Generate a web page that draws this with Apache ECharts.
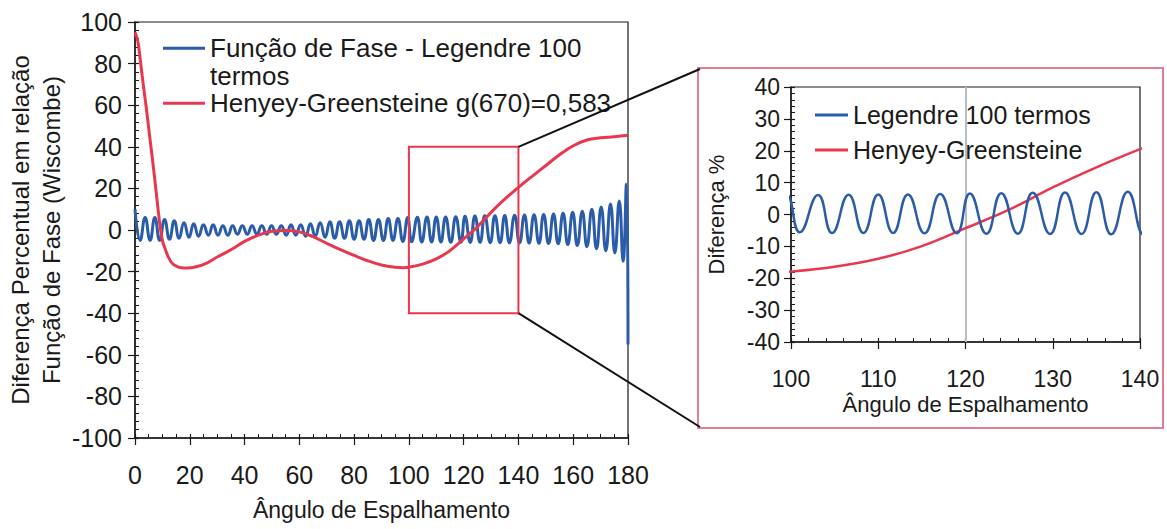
<!DOCTYPE html>
<html><head><meta charset="utf-8">
<script src="https://cdn.jsdelivr.net/npm/echarts@6/dist/echarts.min.js"></script>
<style>html,body{margin:0;padding:0;background:#fff}#c{width:1167px;height:529px}</style>
</head><body><div id="c"></div>
<script>
// Legendre 100 terms: percent difference (angle, value)
const legendreX = [0, 1.9, 3.7, 5.5, 7.25, 9.0, 10.8, 12.6, 14.35, 16.1, 17.9, 19.7, 21.45, 23.2, 25.0, 26.8, 28.55, 30.3, 32.1, 33.9, 35.65, 37.4, 39.2, 41.0, 42.75, 44.5, 46.3, 48.1, 49.85, 51.6, 53.4, 55.2, 56.95, 58.7, 60.5, 62.3, 64.05, 65.8, 67.6, 69.4, 71.15, 72.9, 74.7, 76.5, 78.25, 80.0, 81.8, 83.6, 85.35, 87.1, 88.9, 90.7, 92.45, 94.2, 96.0, 97.8, 99.55, 101.0, 103.1, 104.7, 106.6, 108.3, 110.0, 111.7, 113.4, 115.3, 117.1, 119.0, 120.5, 122.4, 124.1, 126.0, 127.7, 129.7, 131.4, 133.3, 135.0, 136.7, 138.6, 140.4, 142.2, 143.9, 145.7, 147.5, 149.2, 151.0, 152.8, 154.5, 156.3, 158.0, 159.8, 161.5, 163.3, 165.0, 166.8, 168.5, 170.2, 171.9, 173.6, 175.2, 176.8, 178.2, 179.4, 180];
const legendreY = [10, -5, 6, -5, 6, -5, 5, -4.5, 4.5, -4, 3.5, -3.5, 3, -3, 2.5, -2.5, 2.5, -2.5, 2, -2.5, 2, -2, 2, -2, 2, -2, 2, -2, 2, -2, 2, -2.5, 2.5, -2.5, 2.5, -3, 3, -3, 3.5, -3.5, 4, -4, 4, -4, 4.5, -4.5, 4.5, -4.5, 5, -5, 5, -5, 5.5, -5, 5.5, -5.5, 6, -5.6, 6.1, -5.8, 6.2, -5.8, 6.3, -5.8, 6.3, -5.9, 6.4, -5.9, 6.6, -6, 6.7, -6, 6.8, -6.1, 6.9, -6.1, 7.0, -6.2, 7.1, -6.3, 7.2, -6.3, 7.3, -6.4, 7.5, -6.5, 7.7, -6.6, 8, -7, 8.5, -7.5, 9, -8, 10, -9, 11, -10, 12.5, -11, 14, -15, 22, -55];
// Henyey-Greenstein g(670)=0,583: percent difference
const hgX = [0, 1, 2, 3, 4, 5, 6, 7, 8, 9, 10, 11, 12, 13, 14, 15, 17, 19, 22, 26, 30, 35, 40, 45, 50, 55, 60, 65, 70, 75, 80, 85, 90, 95, 98, 100, 105, 110, 115, 120, 125, 130, 135, 140, 145, 150, 155, 160, 165, 170, 175, 180];
const hgY = [95, 91, 81, 70, 60, 49, 38, 27, 15, 3.5, -5, -9, -12.5, -15, -16.5, -17.3, -18.2, -18.3, -17.8, -16, -13, -9.5, -5.5, -2.5, -0.6, -0.2, -0.9, -3.2, -6.4, -9.4, -12.2, -14.8, -16.8, -17.9, -18.1, -17.9, -16.4, -13.9, -9.9, -4.3, 1.5, 8.5, 14.8, 20.5, 25.8, 31, 36.2, 40.5, 43.3, 44.3, 44.8, 45.5];
// axis ranges
const mainX = [0, 180, 20];
const mainY = [-100, 100, 20];
const zoomX = [100, 140, 10];
const zoomY = [-40, 40, 10];
const markerX = 120;

const names = {
  mainBlue: 'Função de Fase - Legendre 100 termos',
  mainRed: 'Henyey-Greensteine g(670)=0,583',
  zoomBlue: 'Legendre 100 termos',
  zoomRed: 'Henyey-Greensteine'
};

const FONT = '"Liberation Sans", Arial, sans-serif';
const BLUE = '#2b5ca8';
const RED = '#e8384f';
const INK = '#1a1a1a';

const blueData = legendreX.map((x, i) => [x, legendreY[i]]);
const redData = hgX.map((x, i) => [x, hgY[i]]);

function axisPair(dim, grid, r, fs, margin, extra) {
  const base = Object.assign({
    type: 'value', gridIndex: grid, min: r[0], max: r[1], interval: r[2],
    axisLine: { show: true, onZero: false, lineStyle: { color: INK, width: 1.5 } },
    axisTick: { show: true, inside: true, length: 4, lineStyle: { color: INK, width: 1.2 } },
    minorTick: { show: true, splitNumber: dim === 'x' && grid === 0 ? 4 : 5, length: 4, lineStyle: { color: INK, width: 1 } },
    splitLine: { show: false },
    axisLabel: { fontSize: fs, color: INK, fontFamily: FONT, margin: margin }
  }, extra);
  base.position = dim === 'x' ? 'bottom' : 'left';
  const overlay = {
    type: 'value', gridIndex: grid, min: r[0], max: r[1], interval: r[2],
    position: dim === 'x' ? 'bottom' : 'left',
    axisLine: { show: false, onZero: false }, axisLabel: { show: false }, splitLine: { show: false },
    axisTick: { show: true, inside: false, length: 7, lineStyle: { color: INK, width: 1.2 } },
    minorTick: { show: false }
  };
  return [base, overlay];
}

const [mx0, mx1] = axisPair('x', 0, mainX, 25, 24, {
  name: 'Ângulo de Espalhamento', nameLocation: 'middle', nameGap: 60,
  nameTextStyle: { fontSize: 23, color: INK, fontFamily: FONT }
});
const [my0, my1] = axisPair('y', 0, mainY, 25, 13, {
  name: 'Diferença Percentual em relação\nFunção de Fase (Wiscombe)', nameLocation: 'middle', nameGap: 68,
  nameTextStyle: { fontSize: 24, lineHeight: 31, color: INK, fontFamily: FONT }
});
const [zx0, zx1] = axisPair('x', 1, zoomX, 23, 25, {
  name: 'Ângulo de Espalhamento', nameLocation: 'middle', nameGap: 51,
  nameTextStyle: { fontSize: 22, color: INK, fontFamily: FONT }
});
const [zy0, zy1] = axisPair('y', 1, zoomY, 23, 11, {
  name: 'Diferença %', nameLocation: 'middle', nameGap: 64,
  nameTextStyle: { fontSize: 22, color: INK, fontFamily: FONT }
});

const chart = echarts.init(document.getElementById('c'), null, { renderer: 'svg' });
chart.setOption({
  animation: false,
  backgroundColor: '#fff',
  grid: [
    { left: 135, right: 539, top: 22, bottom: 91, show: true, borderColor: INK, borderWidth: 1.2, backgroundColor: 'transparent' },
    { left: 791, right: 27, top: 87, bottom: 187, show: true, borderColor: INK, borderWidth: 1.2, backgroundColor: 'transparent' }
  ],
  xAxis: [mx0, zx0, mx1, zx1],
  yAxis: [my0, zy0, my1, zy1],
  legend: [
    {
      data: [names.mainBlue, names.mainRed], orient: 'vertical', left: 163, top: 7,
      icon: 'rect', itemWidth: 42, itemHeight: 3, itemGap: 0, padding: 0,
      formatter: n => n === names.mainBlue ? '\nFunção de Fase - Legendre 100\ntermos' : n,
      textStyle: { fontSize: 26, lineHeight: 27.5, color: INK, fontFamily: FONT }
    },
    {
      data: [names.zoomBlue, names.zoomRed], orient: 'vertical', left: 815, top: 102,
      icon: 'rect', itemWidth: 33, itemHeight: 3, itemGap: 9, padding: 0,
      textStyle: { fontSize: 25, lineHeight: 26, color: INK, fontFamily: FONT }
    }
  ],
  series: [
    {
      name: names.mainBlue, type: 'line', xAxisIndex: 0, yAxisIndex: 0, data: blueData,
      smooth: 0.5, symbol: 'none', lineStyle: { color: BLUE, width: 3 }, itemStyle: { color: BLUE }, z: 2,
      markArea: {
        silent: true, z: 5,
        itemStyle: { color: 'rgba(0,0,0,0)', borderColor: RED, borderWidth: 2 },
        data: [[{ xAxis: zoomX[0], yAxis: zoomY[1] }, { xAxis: zoomX[1], yAxis: zoomY[0] }]]
      }
    },
    {
      name: names.mainRed, type: 'line', xAxisIndex: 0, yAxisIndex: 0, data: redData,
      smooth: 0.4, symbol: 'none', lineStyle: { color: RED, width: 3 }, itemStyle: { color: RED }, z: 3
    },
    {
      name: names.zoomBlue, type: 'line', xAxisIndex: 1, yAxisIndex: 1, data: blueData,
      smooth: 0.5, symbol: 'none', lineStyle: { color: BLUE, width: 2.5 }, itemStyle: { color: BLUE }, z: 3,
      markLine: {
        silent: true, symbol: 'none', label: { show: false }, z: 1,
        lineStyle: { color: '#b9bdc9', type: 'solid', width: 2 },
        data: [{ xAxis: markerX }]
      }
    },
    {
      name: names.zoomRed, type: 'line', xAxisIndex: 1, yAxisIndex: 1, data: redData,
      smooth: 0.4, symbol: 'none', lineStyle: { color: RED, width: 2.5 }, itemStyle: { color: RED }, z: 2
    }
  ]
});

// inset frame and connectors (start points from the main grid's zoom box)
const pTop = chart.convertToPixel({ gridIndex: 0 }, [zoomX[1], zoomY[1]]);
const pBot = chart.convertToPixel({ gridIndex: 0 }, [zoomX[1], zoomY[0]]);
const frame = { x: 698, y: 68, w: 465, h: 360 };
chart.setOption({
  graphic: [
    { type: 'rect', silent: true, z: 0, shape: { x: frame.x, y: frame.y, width: frame.w, height: frame.h },
      style: { fill: 'none', stroke: '#e27d93', lineWidth: 2 } },
    { type: 'line', silent: true, z: 10, shape: { x1: pTop[0], y1: pTop[1], x2: frame.x + 2, y2: frame.y + 1 },
      style: { stroke: '#111', lineWidth: 2 } },
    { type: 'line', silent: true, z: 10, shape: { x1: pBot[0], y1: pBot[1], x2: frame.x + 2, y2: frame.y + frame.h - 1 },
      style: { stroke: '#111', lineWidth: 2 } }
  ]
});
</script></body></html>
